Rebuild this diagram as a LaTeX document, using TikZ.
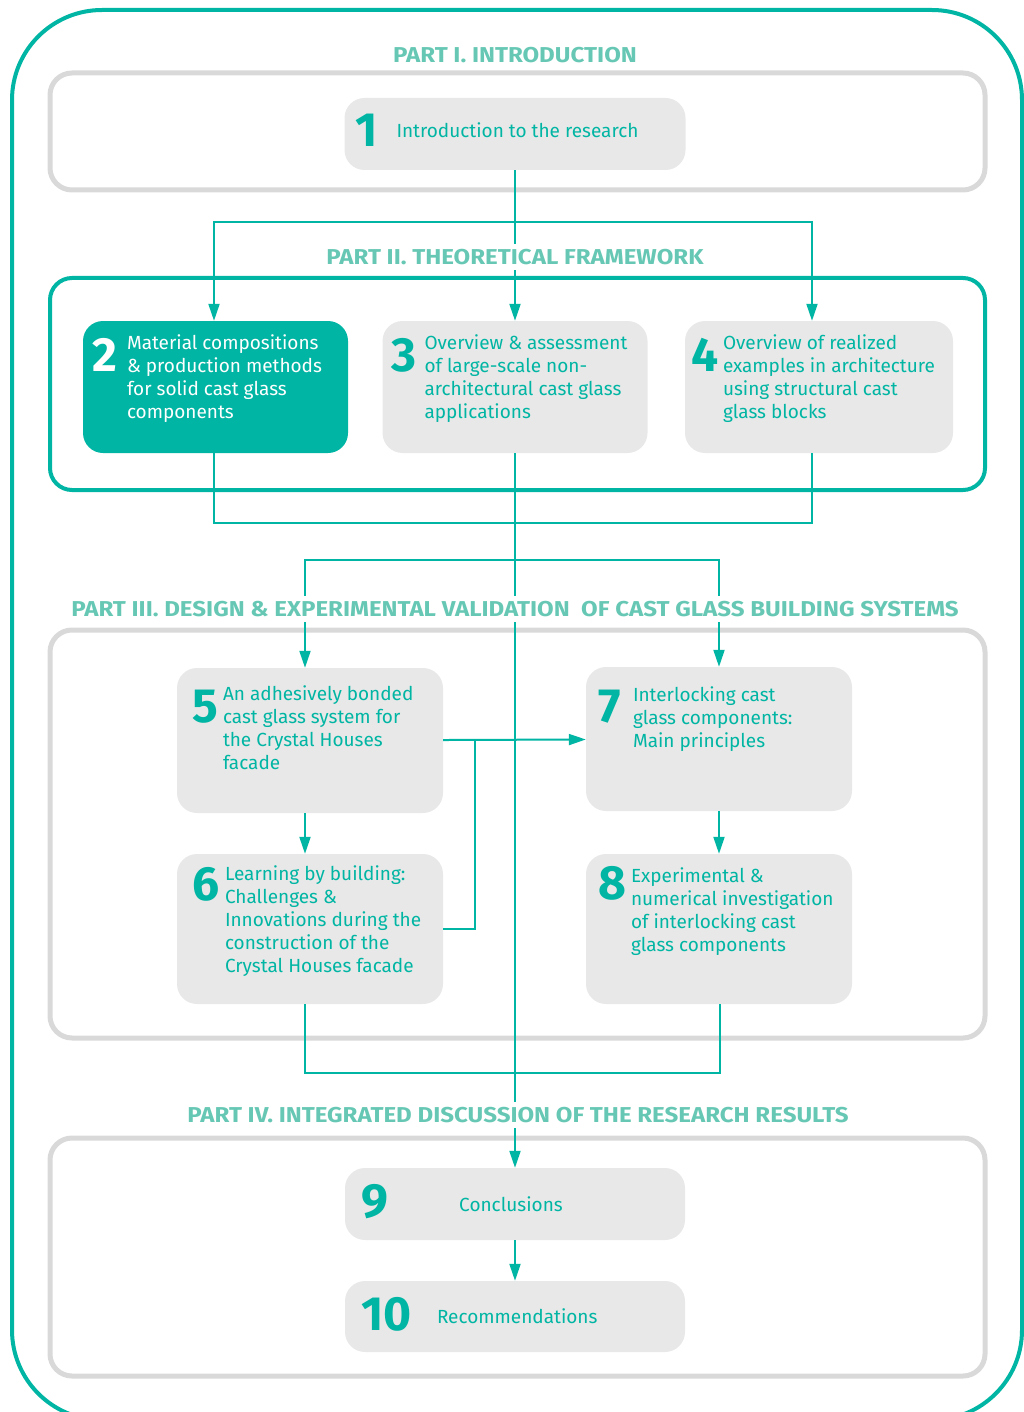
\documentclass[tikz,border=0pt]{standalone}
\usepackage{fontspec}
\setmainfont{Fira Sans}
\newfontfamily\titlefont[FakeStretch=1.12]{Fira Sans}
\usetikzlibrary{positioning,calc,arrows.meta}

\definecolor{glassteal}{HTML}{00B5A3}
\definecolor{titleteal}{HTML}{66C8B4}
\definecolor{framegray}{HTML}{D9D9D9}
\definecolor{boxgray}{HTML}{E8E8E8}

\begin{document}
\begin{tikzpicture}[
    x=1pt, y=-1pt,
    outer/.style={draw=glassteal, line width=4pt, rounded corners=90pt},
    partframe/.style={rectangle, draw=framegray, line width=5pt, rounded corners=22pt, inner sep=0pt},
    parttitle/.style={text=titleteal, fill=white, font=\titlefont\fontsize{21.5}{24}\selectfont\bfseries, inner xsep=0pt, inner ysep=5pt},
    chapbox/.style={rectangle, fill=boxgray, rounded corners=20pt, inner sep=0pt},
    num/.style={text=glassteal, font=\fontsize{48}{48}\selectfont\bfseries, inner sep=0pt, anchor=north west},
    chaptext/.style={text=glassteal, font=\fontsize{19}{23}\selectfont, align=left, inner sep=0pt, anchor=north west},
    line/.style={draw=glassteal, line width=2pt},
    arrow/.style={line, -{Triangle[length=17pt, width=11pt]}}
]
    \useasboundingbox (0,0) rectangle (1024,1412);
    \draw[outer] (12,10) rectangle (1022,1420);

    % part frames
    \node[partframe, minimum width=935pt, minimum height=117pt] (part1) at (517.5,131.5) {};
    \node[partframe, draw=glassteal, line width=4pt, minimum width=935pt, minimum height=212pt] (part2) at (517.5,384) {};
    \node[partframe, minimum width=935pt, minimum height=408pt] (part3) at (517.5,834) {};
    \node[partframe, minimum width=935pt, minimum height=238pt] (part4) at (517.5,1257) {};

    % chapters
    \node[chapbox, minimum width=341pt, minimum height=72pt] (ch1) at (515,134) {};
    \node[num, anchor=west] at ($(ch1.west)+(11,-4)$) {1};
    \node[chaptext, anchor=west] at ($(ch1.west)+(52,-4)$) {Introduction to the research};

    \node[chapbox, fill=glassteal, minimum width=265pt, minimum height=132pt] (ch2) at (215.5,387) {};
    \node[num, text=white] at ($(ch2.north west)+(9,17)$) {2};
    \node[chaptext, text=white] at ($(ch2.north west)+(44,14)$) {Material compositions\\\& production methods\\for solid cast glass\\components};

    \node[chapbox, minimum width=265pt, minimum height=132pt] (ch3) at (515,387) {};
    \node[num] at ($(ch3.north west)+(9,17)$) {3};
    \node[chaptext] at ($(ch3.north west)+(42,14)$) {Overview \& assessment\\of large-scale non-\\architectural cast glass\\applications};

    \node[chapbox, minimum width=268pt, minimum height=132pt] (ch4) at (819,387) {};
    \node[num] at ($(ch4.north west)+(6,17)$) {4};
    \node[chaptext] at ($(ch4.north west)+(38,14)$) {Overview of realized\\examples in architecture\\using structural cast\\glass blocks};

    \node[chapbox, minimum width=266pt, minimum height=145pt] (ch5) at (310,740.5) {};
    \node[num] at ($(ch5.north west)+(15,22)$) {5};
    \node[chaptext] at ($(ch5.north west)+(46,18)$) {An adhesively bonded\\cast glass system for\\the Crystal Houses\\facade};

    \node[chapbox, minimum width=266pt, minimum height=150pt] (ch6) at (310,929) {};
    \node[num] at ($(ch6.north west)+(15,13)$) {6};
    \node[chaptext] at ($(ch6.north west)+(48,12)$) {Learning by building:\\Challenges \&\\Innovations during the\\construction of the\\Crystal Houses facade};

    \node[chapbox, minimum width=266pt, minimum height=144pt] (ch7) at (719,739) {};
    \node[num] at ($(ch7.north west)+(12,23)$) {7};
    \node[chaptext] at ($(ch7.north west)+(47,20)$) {Interlocking cast\\glass components:\\Main principles};

    \node[chapbox, minimum width=266pt, minimum height=150pt] (ch8) at (719,929) {};
    \node[num] at ($(ch8.north west)+(12,12)$) {8};
    \node[chaptext] at ($(ch8.north west)+(45,14)$) {Experimental \&\\numerical investigation\\of interlocking cast\\glass components};

    \node[chapbox, minimum width=340pt, minimum height=72pt] (ch9) at (515,1204) {};
    \node[num, anchor=west] at ($(ch9.west)+(16,-2)$) {9};
    \node[chaptext, anchor=center] at ($(ch9.center)+(-4,0)$) {Conclusions};

    \node[chapbox, minimum width=340pt, minimum height=71pt] (ch10) at (515,1316.5) {};
    \node[num, anchor=west] at ($(ch10.west)+(16,-2)$) {10};
    \node[chaptext, anchor=west] at ($(ch10.west)+(92,0)$) {Recommendations};

    % junctions
    \coordinate (split1) at (515,222);
    \coordinate (merge2) at (515,523);
    \coordinate (split3) at (515,560);
    \coordinate (back6) at (475,740);
    \coordinate (merge3) at (515,1073);

    \draw[line] (ch1) -- (split1);
    \draw[arrow] (split1) -| ([xshift=-1.5pt]ch2.north);
    \draw[arrow] (split1) -- (ch3);
    \draw[arrow] (split1) -| ([xshift=-7pt]ch4.north);
    \draw[line] ([xshift=-1.5pt]ch2.south) |- (merge2) -| ([xshift=-7pt]ch4.south);
    \draw[arrow] (ch3) -- (ch9);
    \draw[arrow] (split3) -| ([xshift=-5pt]ch5.north);
    \draw[arrow] (split3) -| (ch7);
    \draw[arrow] ([xshift=-5pt]ch5.south) -- ([xshift=-5pt]ch6.north);
    \draw[arrow] (ch7) -- (ch8);
    \draw[arrow] (ch5) -- (ch7);
    \draw[line] (ch6.east) -| (back6);
    \draw[line] ([xshift=-5pt]ch6.south) |- (merge3) -| ([xshift=1pt]ch8.south);
    \draw[arrow] (ch9) -- (ch10);

    % part titles, over the lines
    \node[parttitle] (title1) at (515,55) {PART I. INTRODUCTION};
    \node[parttitle] (title2) at (515,257) {PART II. THEORETICAL FRAMEWORK};
    \node[parttitle] (title3) at (515,609) {PART III. DESIGN \& EXPERIMENTAL VALIDATION \ OF CAST GLASS BUILDING SYSTEMS};
    \node[parttitle] (title4) at (518,1115) {PART IV. INTEGRATED DISCUSSION OF THE RESEARCH RESULTS};
\end{tikzpicture}
\end{document}
